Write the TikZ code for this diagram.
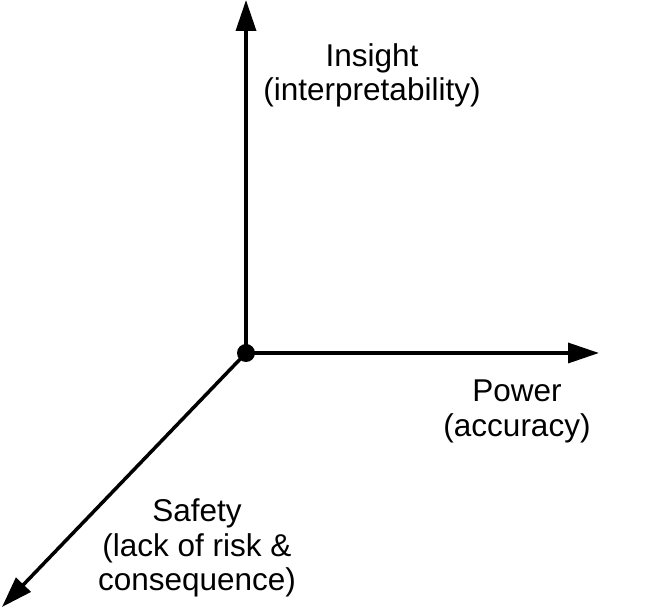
\documentclass[tikz,border=0pt]{standalone}
\usepackage{fontspec}
\setmainfont{Liberation Sans}
\usetikzlibrary{arrows.meta}

\begin{document}
\begin{tikzpicture}[x=1pt, y=1pt,
  axis/.style={line width=3.5pt, -{Triangle[width=20pt,length=31pt]}},
  axislabel/.style={font=\fontsize{31.5}{34.5}\selectfont, align=center, inner sep=0pt, anchor=north}]
  \useasboundingbox (0,0) rectangle (670,610);
  \coordinate (origin) at (246,257);
  \coordinate (insighttip) at (246,610);
  \coordinate (powertip) at (599,257);
  \coordinate (safetytip) at (2,3);
  \draw [axis] (origin) -- (insighttip);
  \draw [axis] (origin) -- (powertip);
  \draw [axis] (origin) -- (safetytip);
  \fill (origin) circle (9);
  \node [axislabel] (insight) at (372,567) {Insight\\(interpretability)};
  \node [axislabel] (power) at (517,230) {Power\\(accuracy)};
  \node [axislabel] (safety) at (197,111) {Safety\\(lack of risk \&\\consequence)};
\end{tikzpicture}
\end{document}
